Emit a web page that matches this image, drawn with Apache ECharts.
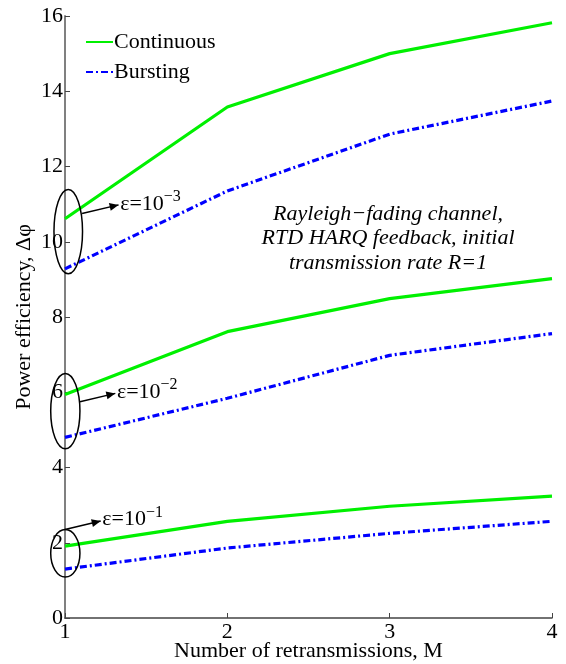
<!DOCTYPE html>
<html>
<head>
<meta charset="utf-8">
<script src="https://cdn.jsdelivr.net/npm/echarts@6/dist/echarts.min.js"></script>
<style>
html,body{margin:0;padding:0;background:#fff;}
#c{width:566px;height:664px;}
</style>
</head>
<body>
<div id="c"></div>
<script>
var retransmissions = [1, 2, 3, 4];
var xTicks = [1, 2, 3, 4];
var yTicks = [0, 2, 4, 6, 8, 10, 12, 14, 16];
// epsilon = 1e-3
var contEps3  = [10.61, 13.58, 15.00, 15.82];
var burstEps3 = [9.28, 11.35, 12.86, 13.74];
// epsilon = 1e-2
var contEps2  = [5.94, 7.61, 8.49, 9.02];
var burstEps2 = [4.80, 5.84, 6.98, 7.56];
// epsilon = 1e-1
var contEps1  = [1.91, 2.57, 2.97, 3.24];
var burstEps1 = [1.30, 1.86, 2.25, 2.57];
var epsLabels = ['−3', '−2', '−1'];
var noteLines = ['Rayleigh−fading channel,', 'RTD HARQ feedback, initial', 'transmission rate R=1'];

var FONT = '"Liberation Serif","DejaVu Serif",serif';
var GREEN = '#00f000';
var BLUE = '#0000ff';

function pairs(ys){ return retransmissions.map(function(x,i){ return [x, ys[i]]; }); }

function contSeries(name, ys){
  return {name:name, type:'line', data:pairs(ys), symbol:'none', showSymbol:false, silent:true,
    lineStyle:{color:GREEN, width:3.2}, itemStyle:{color:GREEN}, z:3};
}
function burstSeries(name, ys){
  return {name:name, type:'line', data:pairs(ys), symbol:'none', showSymbol:false, silent:true,
    lineStyle:{color:BLUE, width:3.2, type:[7,3,2,3]}, itemStyle:{color:BLUE}, z:3};
}

var chart = echarts.init(document.getElementById('c'), null, {renderer:'canvas'});
var option = {
  animation:false,
  backgroundColor:'#fff',
  grid:{left:65, right:14, top:16, bottom:46, containLabel:false, outerBoundsMode:'none'},
  legend:{
    orient:'vertical', left:80, top:26, itemWidth:27, itemHeight:10, itemGap:8,
    data:['Continuous','Bursting'],
    itemStyle:{opacity:0},
    textStyle:{fontFamily:FONT, fontSize:22, color:'#000', padding:[0,0,0,-4]},
    selectedMode:false
  },
  xAxis:{
    type:'value', min:1, max:4, interval:1,
    name:'Number of retransmissions, M', nameLocation:'middle', nameGap:22, nameMoveOverlap:false,
    nameTextStyle:{fontFamily:FONT, fontSize:22, color:'#000'},
    axisLine:{show:true, lineStyle:{color:'#444', width:1.5}},
    axisTick:{show:true, inside:true, length:5, lineStyle:{color:'#444'}},
    axisLabel:{fontFamily:FONT, fontSize:22, color:'#000', margin:3,
      formatter:function(v){ return xTicks.indexOf(v) >= 0 ? String(v) : ''; }},
    splitLine:{show:false}
  },
  yAxis:{
    type:'value', min:0, max:16, interval:2,
    name:'Power efficiency, Δφ', nameLocation:'middle', nameGap:30, nameRotate:90, nameMoveOverlap:false,
    nameTextStyle:{fontFamily:FONT, fontSize:22, color:'#000'},
    axisLine:{show:true, lineStyle:{color:'#808080', width:2}},
    axisTick:{show:true, inside:true, length:5, lineStyle:{color:'#444'}},
    axisLabel:{fontFamily:FONT, fontSize:22, color:'#000', margin:2,
      formatter:function(v){ return yTicks.indexOf(v) >= 0 ? String(v) : ''; }},
    splitLine:{show:false}
  },
  series:[
    contSeries('Continuous', contEps3),
    burstSeries('Bursting', burstEps3),
    contSeries('Continuous', contEps2),
    burstSeries('Bursting', burstEps2),
    contSeries('Continuous', contEps1),
    burstSeries('Bursting', burstEps1)
  ]
};
chart.setOption(option);

// annotations built from data coordinates via the chart scales
function px(x, y){ return chart.convertToPixel({gridIndex:0}, [x, y]); }

var ellipses = [
  {c:[1.02, 10.27], rx:0.088, ry:1.12, a0:[1.105, 10.75], a1:[1.33, 10.98], t:[1.34, 11.0], lab:epsLabels[0]},
  {c:[1.002, 5.5], rx:0.09, ry:1.0, a0:[1.092, 5.75], a1:[1.31, 5.97], t:[1.32, 6.0], lab:epsLabels[1]},
  {c:[1.002, 1.72], rx:0.09, ry:0.63, a0:[1.0, 2.35], a1:[1.22, 2.58], t:[1.23, 2.62], lab:epsLabels[2]}
];

var graphics = [];
ellipses.forEach(function(e){
  var c = px(e.c[0], e.c[1]);
  var r = px(e.c[0] + e.rx, e.c[1] + e.ry);
  graphics.push({type:'ellipse', shape:{cx:c[0], cy:c[1], rx:Math.abs(r[0]-c[0]), ry:Math.abs(c[1]-r[1])},
    style:{fill:null, stroke:'#000', lineWidth:1.5}, z:10});
  var p0 = px(e.a0[0], e.a0[1]);
  var p1 = px(e.a1[0], e.a1[1]);
  graphics.push({type:'line', shape:{x1:p0[0], y1:p0[1], x2:p1[0], y2:p1[1]},
    style:{stroke:'#000', lineWidth:1.5}, z:10});
  var ang = Math.atan2(p1[1]-p0[1], p1[0]-p0[0]);
  var L = 9, W = 4;
  var bx = p1[0] - L*Math.cos(ang), by = p1[1] - L*Math.sin(ang);
  graphics.push({type:'polygon', shape:{points:[
    [p1[0], p1[1]],
    [bx + W*Math.sin(ang), by - W*Math.cos(ang)],
    [bx - W*Math.sin(ang), by + W*Math.cos(ang)]
  ]}, style:{fill:'#000'}, z:10});
  var tp = px(e.t[0], e.t[1]);
  graphics.push({type:'text', x:tp[0], y:tp[1], z:10, style:{
    text:'ε=10{sup|' + e.lab + '}', fontFamily:FONT, fontSize:22, fill:'#000',
    verticalAlign:'middle', align:'left',
    rich:{sup:{fontFamily:FONT, fontSize:16, fill:'#000', verticalAlign:'top', padding:[0,0,14,0]}}
  }});
});

var noteAnchor = px(2.99, 10.74);
noteLines.forEach(function(t, i){
  graphics.push({type:'text', x:noteAnchor[0], y:noteAnchor[1] + i*24.5, z:10, style:{
    text:t, fontFamily:FONT, fontSize:22, fontStyle:'italic', fill:'#000',
    align:'center', verticalAlign:'middle'
  }});
});

chart.setOption({graphic:graphics});
</script>
</body>
</html>
